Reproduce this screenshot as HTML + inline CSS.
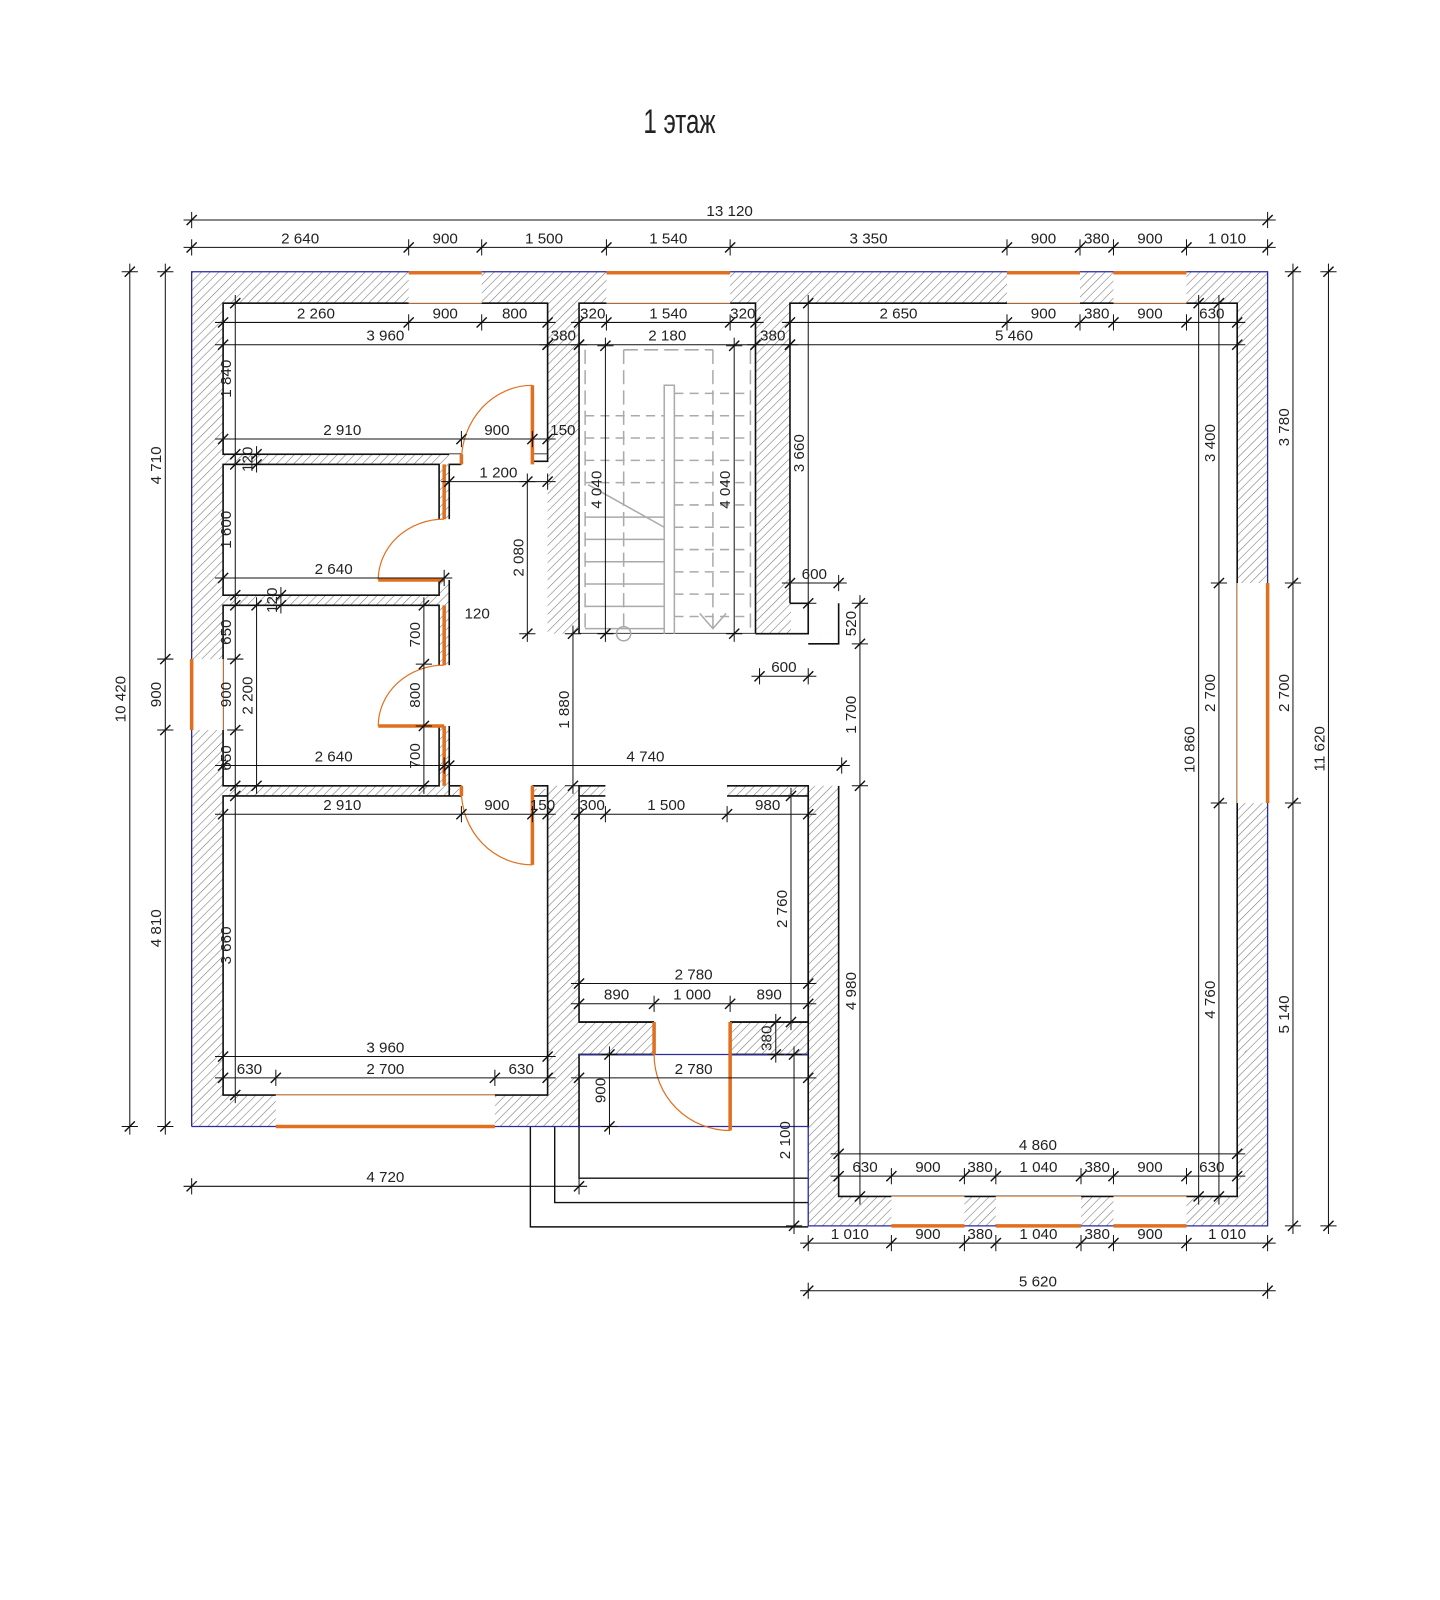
<!DOCTYPE html>
<html><head><meta charset="utf-8"><style>
html,body{margin:0;padding:0;background:#fff;width:1440px;height:1600px;overflow:hidden}
svg{display:block}
text{font-family:"Liberation Sans Narrow","Liberation Sans",sans-serif;font-size:15px;fill:#222}
</style></head><body>
<svg id="s" width="1440" height="1600" viewBox="0 0 1420 1578" preserveAspectRatio="none" xmlns="http://www.w3.org/2000/svg">
<defs>
<pattern id="h" width="6" height="6" patternUnits="userSpaceOnUse" patternTransform="rotate(45)">
<line x1="0" y1="0" x2="0" y2="6" stroke="#777" stroke-width="1.1"/>
</pattern>
</defs>
<text x="0" y="0" text-anchor="middle" transform="translate(670,131) scale(0.7,1)" style="font-size:34px;font-family:'Liberation Sans Narrow','Liberation Sans',sans-serif">1 этаж</text>
<g id="walls">
<polygon points="189,268 1250,268 1250,1209 797,1209 797,1111 189,1111" fill="url(#h)" stroke="none"/>
<g fill="#fff" stroke="#111" stroke-width="1.6">
<rect x="220" y="299" width="320" height="149"/>
<rect x="220" y="458" width="213" height="129"/>
<rect x="220" y="597" width="213" height="178"/>
<rect x="220" y="785" width="320" height="295"/>
<rect x="571" y="299" width="174" height="326"/>
<rect x="571" y="785" width="226" height="223"/>
<rect x="571" y="1040" width="226" height="71"/>
</g>
<polygon points="779,299 1220,299 1220,1180 827,1180 827,595 779,595" fill="#fff" stroke="none"/>
<polyline points="779,595 779,299 1220,299 1220,1180 827,1180 827,775" fill="none" stroke="#111" stroke-width="1.6"/>
<g fill="#fff" stroke="none">
<rect x="443" y="448" width="97" height="330"/>
<rect x="443" y="625" width="405" height="150"/>
<rect x="597" y="770" width="120" height="20"/>
<rect x="780" y="590" width="47" height="35"/>
<rect x="828" y="630" width="25" height="145"/>
<rect x="572" y="1105" width="224" height="8"/>
<rect x="645" y="1005" width="75" height="38"/>
<rect x="455" y="440" width="70" height="20"/>
<rect x="455" y="772" width="70" height="16"/>
<rect x="430" y="512" width="16" height="60"/>
<rect x="430" y="656" width="16" height="60"/>
</g>
<g fill="none" stroke="#111" stroke-width="1.6">
<polyline points="443,775 443,785"/>
<polyline points="540,448 540,455 525,455"/>
<polyline points="443,458 455,458"/>
<polyline points="443,458 443,512"/>
<polyline points="443,572 443,656"/>
<polyline points="443,716 443,775"/>
<polyline points="455,775 443,775"/>
<polyline points="525,775 540,775 540,785"/>
<polyline points="571,785 571,775 597,775"/>
<polyline points="717,775 797,775 797,785"/>
<polyline points="797,785 797,1040"/>
<polyline points="745,625 797,625 797,595 779,595"/>
<polyline points="797,635 827,635 827,595"/>
<polyline points="571,1008 645,1008"/>
<polyline points="720,1008 797,1008"/>
<polyline points="571,1040 645,1040"/>
<polyline points="720,1040 797,1040"/>
</g>
<g fill="none" stroke="#111" stroke-width="1.4">
<polyline points="571,1111 571,1162 797,1162"/>
<polyline points="547,1111 547,1186 797,1186"/>
<polyline points="523,1111 523,1210 797,1210"/>
</g>
<g fill="none" stroke="#2a2aa0" stroke-width="1.3">
<polyline points="189,1111 189,268 1250,268 1250,1209 797,1209 797,1111 571,1111"/>
<line x1="189" y1="1111" x2="571" y2="1111"/>
<line x1="571" y1="1040" x2="797" y2="1040"/>
</g>
</g>
<g id="win" fill="#fff" stroke="none">
<rect x="403" y="269" width="72" height="30"/>
<rect x="598" y="269" width="122" height="30"/>
<rect x="993" y="269" width="72" height="30"/>
<rect x="1098" y="269" width="72" height="30"/>
<rect x="190" y="650" width="30" height="70"/>
<rect x="1220" y="575" width="29" height="217"/>
<rect x="272" y="1080" width="216" height="30"/>
<rect x="879" y="1180" width="72" height="28"/>
<rect x="982" y="1180" width="84" height="28"/>
<rect x="1098" y="1180" width="72" height="28"/>
</g>
<g stroke="#e07020" stroke-width="3.5" fill="none">
<line x1="403" y1="269" x2="475" y2="269"/>
<line x1="598" y1="269" x2="720" y2="269"/>
<line x1="993" y1="269" x2="1065" y2="269"/>
<line x1="1098" y1="269" x2="1170" y2="269"/>
<line x1="189" y1="650" x2="189" y2="720"/>
<line x1="1250" y1="575" x2="1250" y2="792"/>
<line x1="272" y1="1111" x2="488" y2="1111"/>
<line x1="879" y1="1209" x2="951" y2="1209"/>
<line x1="982" y1="1209" x2="1066" y2="1209"/>
<line x1="1098" y1="1209" x2="1170" y2="1209"/>
</g>
<g stroke="#f0a060" stroke-width="1" fill="none">
<line x1="403" y1="299" x2="475" y2="299"/>
<line x1="598" y1="299" x2="720" y2="299"/>
<line x1="993" y1="299" x2="1065" y2="299"/>
<line x1="1098" y1="299" x2="1170" y2="299"/>
<line x1="220" y1="650" x2="220" y2="720"/>
<line x1="1220" y1="575" x2="1220" y2="792"/>
<line x1="272" y1="1080" x2="488" y2="1080"/>
<line x1="879" y1="1180" x2="951" y2="1180"/>
<line x1="982" y1="1180" x2="1066" y2="1180"/>
<line x1="1098" y1="1180" x2="1170" y2="1180"/>
</g>
<g id="doors" stroke="#e07020" fill="none">
<g stroke-width="1.2">
<path d="M455,455 A70,75 0 0 1 525,380"/>
<path d="M438,512 A65,60 0 0 0 373,572"/>
<path d="M438,656 A65,60 0 0 0 373,716"/>
<path d="M455,780 A70,73 0 0 0 525,853"/>
<path d="M645,1040 A75,75 0 0 0 720,1115"/>
</g>
<g stroke-width="3.5">
<line x1="525" y1="380" x2="525" y2="458"/>
<line x1="373" y1="572" x2="438" y2="572"/>
<line x1="373" y1="716" x2="438" y2="716"/>
<line x1="525" y1="775" x2="525" y2="853"/>
<line x1="720" y1="1008" x2="720" y2="1115"/>
<line x1="645" y1="1008" x2="645" y2="1040"/>
<line x1="455" y1="448" x2="455" y2="458"/>
<line x1="438" y1="458" x2="438" y2="512"/>
<line x1="438" y1="597" x2="438" y2="656"/>
<line x1="438" y1="716" x2="438" y2="775"/>
<line x1="455" y1="775" x2="455" y2="785"/>
</g>
</g>
<g id="stairs" stroke="#aaa" stroke-width="1.5" fill="none"></g>
<g id="dims" stroke="#111" stroke-width="1" fill="none"></g>
<g id="labels"></g>
</svg>
<script>
var NS="http://www.w3.org/2000/svg";
function el(p,t,a,txt){var e=document.createElementNS(NS,t);for(var k in a)e.setAttribute(k,a[k]);if(txt)e.textContent=txt;p.appendChild(e);return e;}
var D=document.getElementById("dims"),L=document.getElementById("labels"),S=document.getElementById("stairs");
function tick(x,y){el(D,"line",{x1:x-5,y1:y+5,x2:x+5,y2:y-5,"stroke-width":1.4});}
function H(y,xs,labs,lx){el(D,"line",{x1:xs[0]-8,y1:y,x2:xs[xs.length-1]+8,y2:y});
 for(var i=0;i<xs.length;i++){tick(xs[i],y);el(D,"line",{x1:xs[i],y1:y-8,x2:xs[i],y2:y+8});}
 for(var i=0;i<labs.length;i++){var cx=(lx&&lx[i])?lx[i]:(xs[i]+xs[i+1])/2;el(L,"text",{x:cx,y:y-4,"text-anchor":"middle"},labs[i]);}}
function V(x,ys,labs){el(D,"line",{x1:x,y1:ys[0]-8,x2:x,y2:ys[ys.length-1]+8});
 for(var i=0;i<ys.length;i++){tick(x,ys[i]);el(D,"line",{x1:x-8,y1:ys[i],x2:x+8,y2:ys[i]});}
 for(var i=0;i<labs.length;i++){var cy=(ys[i]+ys[i+1])/2;el(L,"text",{x:0,y:0,"text-anchor":"middle",transform:"translate("+(x-4)+","+cy+") rotate(-90)"},labs[i]);}}
H(217,[189,1250],["13 120"]);
H(244,[189,403,475,598,720,993,1065,1098,1170,1250],["2 640","900","1 500","1 540","3 350","900","380","900","1 010"]);
H(318,[220,403,475,540],["2 260","900","800"]);
H(318,[571,598,720,745],["320","1 540","320"]);
H(318,[779,993,1065,1098,1170,1220],["2 650","900","380","900","630"]);
H(340,[220,540],["3 960"]);H(340,[540,571],["380"]);H(340,[571,745],["2 180"]);H(340,[745,779],["380"]);H(340,[779,1220],["5 460"],[1000]);
H(433,[220,455,525,540],["2 910","900","150"],[0,0,555]);
H(475,[443,540],["1 200"]);
H(570,[220,438],["2 640"]);
H(755,[220,438],["2 640"]);H(755,[443,830],["4 740"]);
H(803,[220,455,525,540],["2 910","900","150"],[0,0,535]);
H(803,[571,597,717,797],["300","1 500","980"]);
H(970,[571,797],["2 780"]);
H(990,[571,645,720,797],["890","1 000","890"]);
H(1042,[220,540],["3 960"]);
H(1063,[220,272,488,540],["630","2 700","630"]);
H(1063,[571,797],["2 780"]);
H(1170,[189,571],["4 720"]);
H(1138,[827,1220],["4 860"]);
H(1160,[827,879,951,982,1066,1098,1170,1220],["630","900","380","1 040","380","900","630"]);
H(1226,[797,879,951,982,1066,1098,1170,1250],["1 010","900","380","1 040","380","900","1 010"]);
H(1273,[797,1250],["5 620"]);
H(575,[779,827],["600"]);H(667,[749,797],["600"]);
V(128,[268,1111],["10 420"]);
V(163,[268,650,720,1111],["4 710","900","4 810"]);
V(232,[299,448],["1 840"]);V(232,[458,587],["1 600"]);V(232,[597,650,720,775],["650","900","650"]);V(232,[785,1080],["3 660"]);
V(253,[448,458],["120"]);V(253,[597,775],["2 200"]);
V(277,[587,597],["120"]);
V(418,[597,655,716,775],["700","800","700"]);
V(520,[475,625],["2 080"]);
V(565,[625,775],["1 880"]);
V(597,[341,625],["4 040"]);
V(724,[341,625],["4 040"]);
V(797,[299,595],["3 660"]);
V(848,[595,635,775,1180],["520","1 700","4 980"]);
V(780,[785,1008],["2 760"]);
V(765,[1008,1040],["380"]);
V(601,[1040,1111],["900"]);
V(783,[1040,1209],["2 100"]);
V(1182,[299,1180],["10 860"]);
V(1202,[299,575,792,1180],["3 400","2 700","4 760"]);
V(1275,[268,575,792,1209],["3 780","2 700","5 140"]);
V(1310,[268,1209],["11 620"]);
el(L,"text",{x:458,y:610},"120");
for(var y=388;y<=610;y+=22){el(S,"line",{x1:665,y1:y,x2:740,y2:y,"stroke-dasharray":"9,6"});}
for(var y=410;y<=480;y+=22){el(S,"line",{x1:577,y1:y,x2:655,y2:y,"stroke-dasharray":"9,6"});}
for(var y=510;y<=620;y+=22){el(S,"line",{x1:577,y1:y,x2:655,y2:y});}
el(S,"polyline",{points:"655,625 655,380 665,380 665,625"});
el(S,"line",{x1:615,y1:345,x2:615,y2:625,"stroke-dasharray":"14,6"});
el(S,"line",{x1:703,y1:345,x2:703,y2:625,"stroke-dasharray":"14,6"});
el(S,"polyline",{points:"615,345 703,345","stroke-dasharray":"14,6"});
el(S,"line",{x1:580,y1:478,x2:655,y2:520});
el(S,"polyline",{points:"690,605 703,620 716,605"});
el(S,"circle",{cx:615,cy:625,r:7});
el(S,"line",{x1:577,y1:345,x2:577,y2:625,"stroke-dasharray":"14,6"});
el(S,"line",{x1:740,y1:345,x2:740,y2:625,"stroke-dasharray":"14,6"});
</script>
</body></html>
